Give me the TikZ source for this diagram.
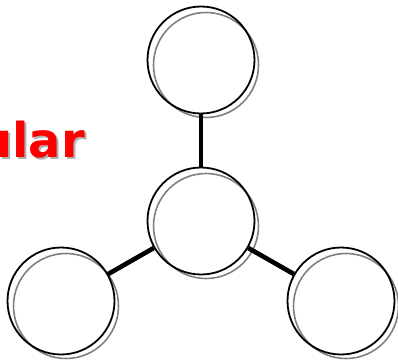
\documentclass[tikz,border=0pt]{standalone}
\usepackage{fontspec}
\newfontfamily\titlefont{DejaVu Sans}
\begin{document}
\begin{tikzpicture}[x=1pt,y=-1pt,
  ball/.style={circle,draw=black,line width=1.8pt,minimum size=107pt,inner sep=0pt},
  ballshadow/.style={draw=black!50,line width=1.6pt},
  link/.style={line width=4.6pt,draw=black},
  titletext/.style={font=\titlefont\bfseries\fontsize{48}{48}\selectfont,inner sep=0pt}]
\useasboundingbox (0,0) rectangle (398,361);
% shadows
\foreach \x/\y in {201/60,201/221,61/301,341/301}
  \draw[ballshadow] (\x+5,\y+5) circle (52.5pt);
% circles
\node[ball] (top) at (201,60) {};
\node[ball] (mid) at (201,221) {};
\node[ball] (left) at (61,301) {};
\node[ball] (right) at (341,301) {};
% connectors
\draw[link] (mid) -- (top);
\draw[link] (mid) -- (left);
\draw[link] (mid) -- (right);
% title text
\node[titletext,text=black!30,anchor=base east] (titleshadow) at (87,159) {ular};
\node[titletext,text=red,anchor=base east] (title) at (85,157) {ular};
\end{tikzpicture}
\end{document}
